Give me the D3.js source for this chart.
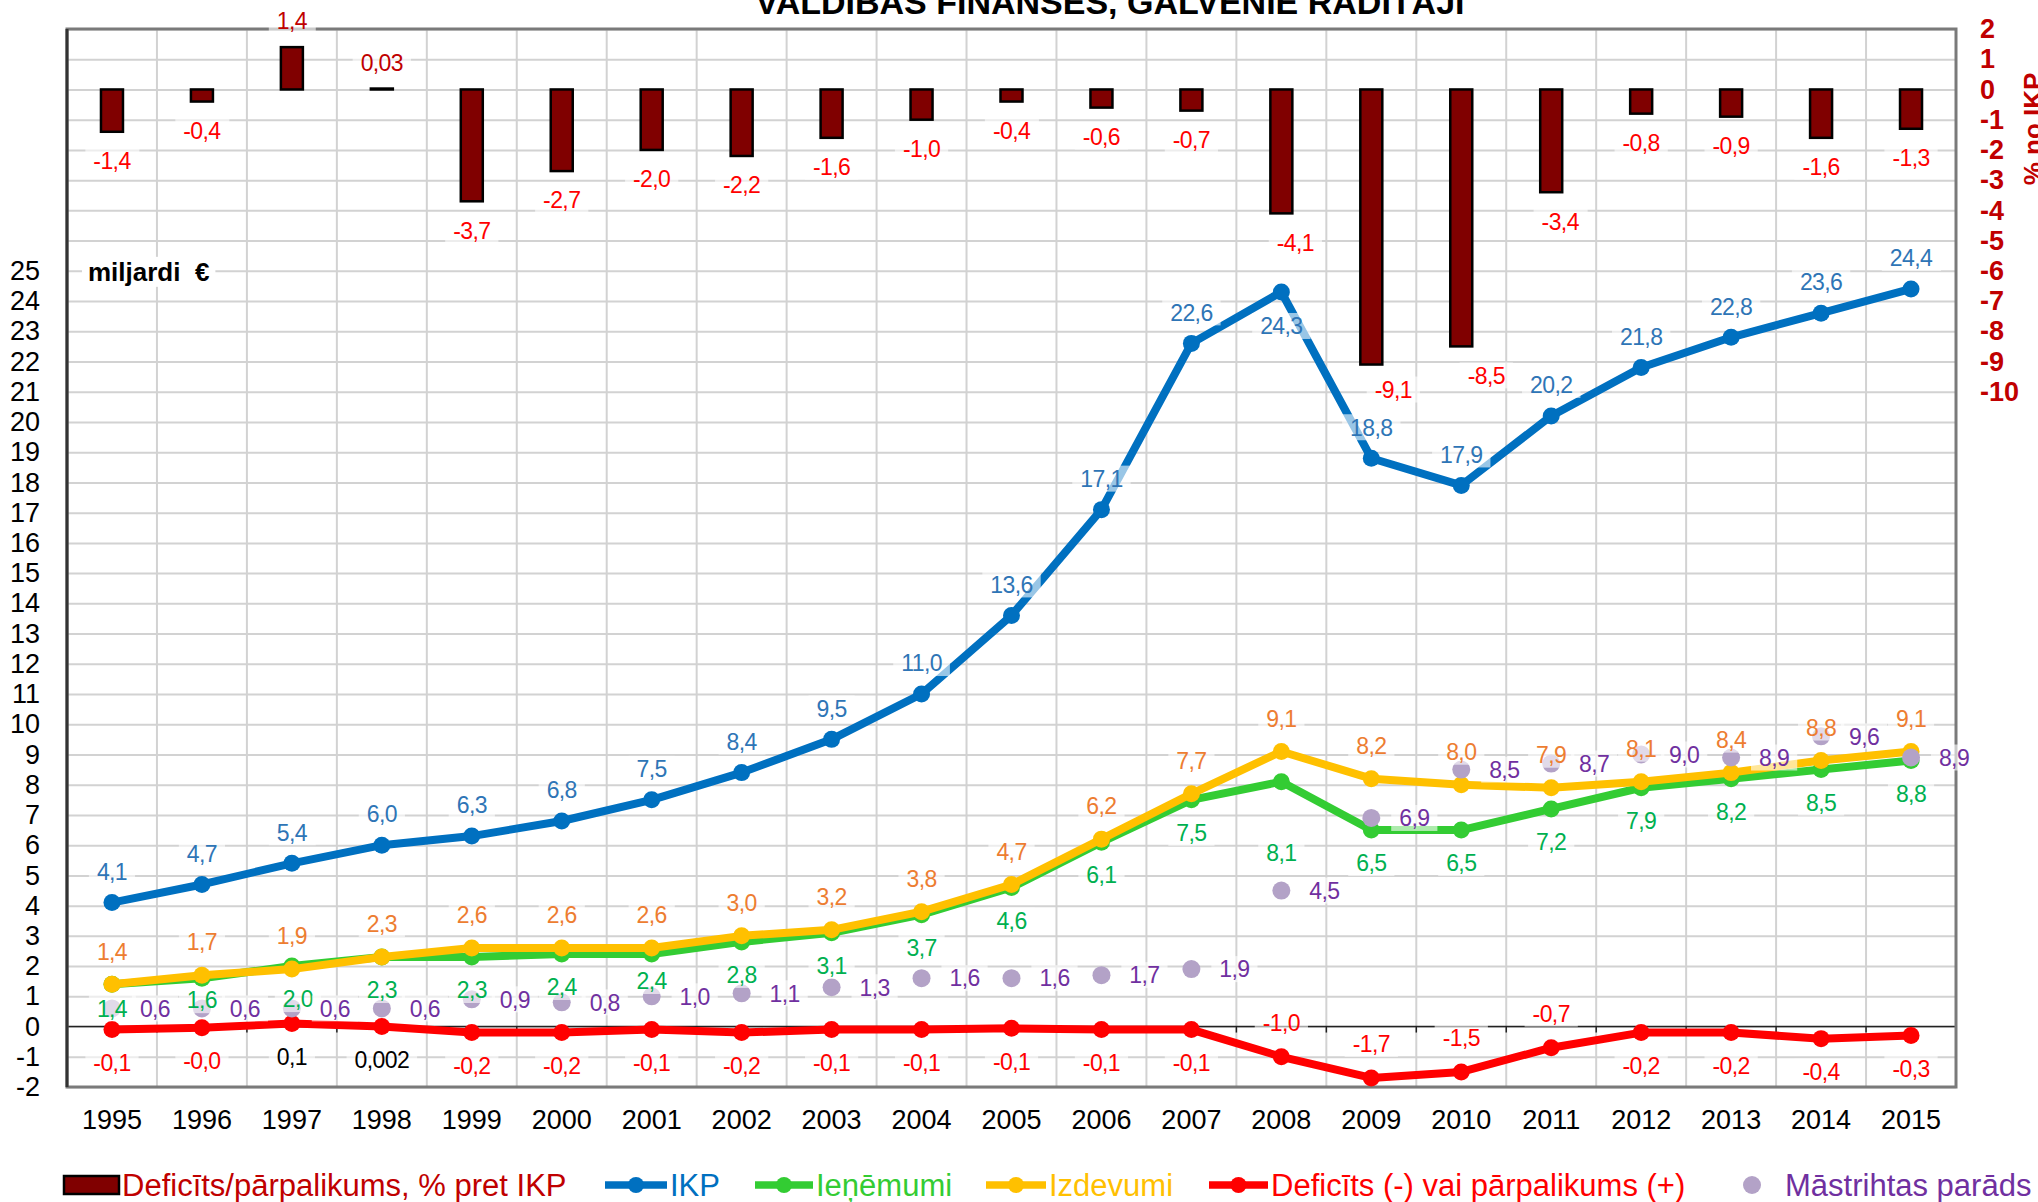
<!DOCTYPE html>
<html>
<head>
<meta charset="utf-8">
<script src="https://cdnjs.cloudflare.com/ajax/libs/d3/7.8.5/d3.min.js"></script>
<style>
    html, body { margin: 0; padding: 0; background: #fff; }
    svg { display: block; font-family: 'Liberation Sans', Arial, sans-serif; }
</style>
</head>
<body>
<div class="chart-container"></div>
<script>
// Data
const years = ['1995', '1996', '1997', '1998', '1999', '2000', '2001', '2002', '2003', '2004',
    '2005', '2006', '2007', '2008', '2009', '2010', '2011', '2012', '2013', '2014', '2015'];
// bars, % of GDP (right axis)
const deficitPct = [-1.4, -0.4, 1.4, 0.03, -3.7, -2.7, -2.0, -2.2, -1.6, -1.0,
    -0.4, -0.6, -0.7, -4.1, -9.1, -8.5, -3.4, -0.8, -0.9, -1.6, -1.3];
// lines, billions EUR (left axis)
const gdp = [4.1, 4.7, 5.4, 6.0, 6.3, 6.8, 7.5, 8.4, 9.5, 11.0,
    13.6, 17.1, 22.6, 24.3, 18.8, 17.9, 20.2, 21.8, 22.8, 23.6, 24.4];
const revenue = [1.4, 1.6, 2.0, 2.3, 2.3, 2.4, 2.4, 2.8, 3.1, 3.7,
    4.6, 6.1, 7.5, 8.1, 6.5, 6.5, 7.2, 7.9, 8.2, 8.5, 8.8];
const spending = [1.4, 1.7, 1.9, 2.3, 2.6, 2.6, 2.6, 3.0, 3.2, 3.8,
    4.7, 6.2, 7.7, 9.1, 8.2, 8.0, 7.9, 8.1, 8.4, 8.8, 9.1];
const balance = [-0.1, -0.04, 0.1, 0.002, -0.2, -0.2, -0.1, -0.2, -0.1, -0.1,
    -0.06, -0.1, -0.1, -1.0, -1.7, -1.5, -0.7, -0.2, -0.2, -0.4, -0.3];
const debt = [0.6, 0.6, 0.6, 0.6, 0.9, 0.8, 1.0, 1.1, 1.3, 1.6,
    1.6, 1.7, 1.9, 4.5, 6.9, 8.5, 8.7, 9.0, 8.9, 9.6, 8.9];

const leftTicks = d3.range(-2, 26);
const rightTicks = d3.range(-10, 3);
const legendNames = ['Deficīts/pārpalikums, % pret IKP', 'IKP', 'Ieņēmumi', 'Izdevumi',
    'Deficīts (-) vai pārpalikums (+)', 'Māstrihtas parāds'];
const titleText = 'VALDĪBAS FINANSES, GALVENIE RĀDĪTĀJI';

// Layout
const svgWidth = 2038;
const svgHeight = 1202;
const plot = { left: 67, right: 1956, top: 29, bottom: 1087 };

// label nudges (layout only)
const barLabelDx = { '2008': 14, '2009': 22, '2010': 25, '2011': 9 };
const gdpBelow = ['2008'];
const revenueDy = { '1995': 24, '1996': 22, '2001': 27, '2008': 71 };
const balanceAbove = ['2008', '2009', '2010', '2011'];

const fmt = v => (v > 0 && v < 0.05 ? String(v) : v.toFixed(1)).replace('.', ',');

function ready() {
    const svg = d3.select('.chart-container')
        .append('svg')
        .attr('width', svgWidth)
        .attr('height', svgHeight);

    // Scales
    const xScale = d3.scaleBand().domain(years).range([plot.left, plot.right]);
    const cx = d => xScale(d) + xScale.bandwidth() / 2;
    const yLeft = d3.scaleLinear().domain([-2, 33]).range([plot.bottom, plot.top]);
    const yRight = d3.scaleLinear().domain([-33, 2]).range([plot.bottom, plot.top]);

    // Grid
    const gridY = d3.axisLeft(yLeft)
        .tickValues(d3.range(-2, 34))
        .tickSize(-(plot.right - plot.left))
        .tickFormat('');
    const gridYDraw = svg.append('g').attr('transform', 'translate(' + plot.left + ',0)');
    gridY(gridYDraw);
    gridYDraw.select('.domain').remove();
    gridYDraw.selectAll('line').attr('stroke', '#d2d2d2').attr('stroke-width', 2);

    svg.append('g')
        .selectAll('line')
        .data(years.slice(1))
        .enter()
        .append('line')
        .attr('x1', d => xScale(d))
        .attr('x2', d => xScale(d))
        .attr('y1', plot.top)
        .attr('y2', plot.bottom)
        .attr('stroke', '#d2d2d2')
        .attr('stroke-width', 2);

    // zero line of the left axis with ticks
    const zeroY = yLeft(0);
    svg.append('line')
        .attr('x1', plot.left).attr('x2', plot.right)
        .attr('y1', zeroY).attr('y2', zeroY)
        .attr('stroke', '#222').attr('stroke-width', 1.5);
    svg.append('g')
        .selectAll('line')
        .data(years.slice(1))
        .enter()
        .append('line')
        .attr('x1', d => xScale(d)).attr('x2', d => xScale(d))
        .attr('y1', zeroY).attr('y2', zeroY + 6)
        .attr('stroke', '#222').attr('stroke-width', 1.5);

    // Border
    svg.append('rect')
        .attr('x', plot.left).attr('y', plot.top)
        .attr('width', plot.right - plot.left)
        .attr('height', plot.bottom - plot.top)
        .attr('fill', 'none')
        .attr('stroke', '#7a7a7a')
        .attr('stroke-width', 3);
    svg.append('line')
        .attr('x1', plot.left).attr('x2', plot.left)
        .attr('y1', plot.top).attr('y2', plot.bottom)
        .attr('stroke', '#333').attr('stroke-width', 3);

    // Bars
    const barW = 22;
    svg.append('g')
        .selectAll('rect')
        .data(years)
        .enter()
        .append('rect')
        .attr('x', d => cx(d) - barW / 2)
        .attr('y', (d, i) => yRight(Math.max(0, deficitPct[i])))
        .attr('width', barW)
        .attr('height', (d, i) => Math.abs(yRight(deficitPct[i]) - yRight(0)))
        .attr('fill', '#800000')
        .attr('stroke', '#000')
        .attr('stroke-width', 2.5);

    // Lines
    const series = [
        { values: gdp, color: '#0070c0' },
        { values: revenue, color: '#33cc33' },
        { values: spending, color: '#ffc000' },
        { values: balance, color: '#ff0000' },
    ];
    series.forEach(s => {
        const line = d3.line()
            .x((d, i) => cx(years[i]))
            .y(d => yLeft(d));
        svg.append('path')
            .datum(s.values)
            .attr('d', line)
            .attr('fill', 'none')
            .attr('stroke', s.color)
            .attr('stroke-width', 8)
            .attr('stroke-linejoin', 'round');
        svg.append('g')
            .selectAll('circle')
            .data(s.values)
            .enter()
            .append('circle')
            .attr('cx', (d, i) => cx(years[i]))
            .attr('cy', d => yLeft(d))
            .attr('r', 8.5)
            .attr('fill', s.color);
    });

    // Maastricht debt points
    svg.append('g')
        .selectAll('circle')
        .data(debt)
        .enter()
        .append('circle')
        .attr('cx', (d, i) => cx(years[i]))
        .attr('cy', d => yLeft(d))
        .attr('r', 9)
        .attr('fill', '#b3a2c7');

    // Data labels
    const labels = svg.append('g');
    function addLabel(x, y, text, color) {
        const g = labels.append('g');
        const box = g.append('rect');
        const t = g.append('text')
            .attr('x', x)
            .attr('y', y)
            .attr('dy', '0.36em')
            .attr('text-anchor', 'middle')
            .attr('font-size', 23)
            .attr('letter-spacing', -0.6)
            .attr('fill', color)
            .text(text);
        const bb = t.node().getBBox();
        box.attr('x', bb.x - 8).attr('y', y - 13)
            .attr('width', bb.width + 16).attr('height', 26)
            .attr('fill', '#fff').attr('fill-opacity', 0.6);
    }

    years.forEach((yr, i) => {
        const v = deficitPct[i];
        const dy = v > 0 ? -26 : (yr === '2009' ? 25 : 29);
        addLabel(cx(yr) + (barLabelDx[yr] || 0), yRight(v) + dy, fmt(v), v > 0 ? '#c00000' : '#ff0000');
    });
    years.forEach((yr, i) => {
        const dy = gdpBelow.includes(yr) ? 34 : -31;
        addLabel(cx(yr), yLeft(gdp[i]) + dy, fmt(gdp[i]), '#2e75b6');
    });
    years.forEach((yr, i) => {
        addLabel(cx(yr), yLeft(spending[i]) - 33, fmt(spending[i]), '#ed7d31');
    });
    years.forEach((yr, i) => {
        const dy = revenueDy[yr] || 33;
        addLabel(cx(yr) + (yr === '1997' ? 6 : 0), yLeft(revenue[i]) + dy, fmt(revenue[i]), '#00b050');
    });
    years.forEach((yr, i) => {
        const v = balance[i];
        const dy = balanceAbove.includes(yr) ? -34 : 33;
        addLabel(cx(yr), yLeft(v) + dy, fmt(v), v > 0 ? '#000' : '#ff0000');
    });
    years.forEach((yr, i) => {
        addLabel(cx(yr) + 43, yLeft(debt[i]), fmt(debt[i]), '#7030a0');
    });

    // Unit label
    const unit = svg.append('g');
    const unitBox = unit.append('rect');
    const unitText = unit.append('text')
        .attr('x', 88)
        .attr('y', yLeft(25) + 10)
        .attr('font-size', 26)
        .attr('font-weight', 'bold')
        .attr('fill', '#000')
        .attr('xml:space', 'preserve')
        .text('miljardi  €');
    const ub = unitText.node().getBBox();
    unitBox.attr('x', ub.x - 6).attr('y', ub.y).attr('width', ub.width + 12).attr('height', ub.height)
        .attr('fill', '#fff');

    // Axes
    const yAxisLeft = d3.axisLeft(yLeft)
        .tickValues(leftTicks)
        .tickSize(0)
        .tickPadding(0)
        .tickFormat(d => String(d));
    const yAxisLeftDraw = svg.append('g').attr('transform', 'translate(40,0)');
    yAxisLeft(yAxisLeftDraw);
    yAxisLeftDraw.select('.domain').remove();
    yAxisLeftDraw.selectAll('text')
        .attr('font-size', 27)
        .attr('font-family', "'Liberation Sans', Arial, sans-serif")
        .attr('fill', '#000');

    const yAxisRight = d3.axisRight(yRight)
        .tickValues(rightTicks)
        .tickSize(0)
        .tickPadding(0)
        .tickFormat(d => String(d));
    const yAxisRightDraw = svg.append('g').attr('transform', 'translate(1980,0)');
    yAxisRight(yAxisRightDraw);
    yAxisRightDraw.select('.domain').remove();
    yAxisRightDraw.selectAll('text')
        .attr('font-size', 27)
        .attr('font-weight', 'bold')
        .attr('font-family', "'Liberation Sans', Arial, sans-serif")
        .attr('fill', '#c00000');

    const xAxis = d3.axisBottom(xScale).tickSize(0).tickPadding(0);
    const xAxisDraw = svg.append('g').attr('transform', 'translate(0,1129)');
    xAxis(xAxisDraw);
    xAxisDraw.select('.domain').remove();
    xAxisDraw.selectAll('text')
        .attr('y', 0)
        .attr('dy', 0)
        .attr('font-size', 27)
        .attr('font-family', "'Liberation Sans', Arial, sans-serif")
        .attr('fill', '#000');

    // right axis title, partly outside the frame as in the original
    svg.append('text')
        .attr('transform', 'translate(2042,129) rotate(-90)')
        .attr('text-anchor', 'middle')
        .attr('font-size', 26)
        .attr('font-weight', 'bold')
        .attr('fill', '#c00000')
        .text('% no IKP');

    // Title (cut off by the top edge, as in the original)
    svg.append('text')
        .attr('x', 1110)
        .attr('y', 14)
        .attr('text-anchor', 'middle')
        .attr('font-size', 34)
        .attr('font-weight', 'bold')
        .attr('fill', '#000')
        .text(titleText);

    // Legend
    const legendY = 1185;
    const legendX = [[64, 119], [605, 667], [755, 813], [986, 1046], [1209, 1268], [1752, 1752]];
    const legendColors = ['#800000', '#0070c0', '#33cc33', '#ffc000', '#ff0000', '#b3a2c7'];
    const legendText = ['#c00000', '#0070c0', '#33cc33', '#ffc000', '#ff0000', '#7030a0'];
    const legend = svg.append('g');
    legendNames.forEach((name, i) => {
        const [x0, x1] = legendX[i];
        if (i === 0) {
            legend.append('rect')
                .attr('x', x0).attr('y', legendY - 9)
                .attr('width', x1 - x0).attr('height', 18)
                .attr('fill', legendColors[i]).attr('stroke', '#000').attr('stroke-width', 2.5);
        } else if (i === 5) {
            legend.append('circle')
                .attr('cx', x0).attr('cy', legendY).attr('r', 9)
                .attr('fill', legendColors[i]);
        } else {
            legend.append('line')
                .attr('x1', x0).attr('x2', x1)
                .attr('y1', legendY).attr('y2', legendY)
                .attr('stroke', legendColors[i]).attr('stroke-width', 7.5);
            legend.append('circle')
                .attr('cx', (x0 + x1) / 2).attr('cy', legendY).attr('r', 8)
                .attr('fill', legendColors[i]);
        }
        legend.append('text')
            .attr('x', i === 5 ? 1785 : x1 + 3)
            .attr('y', legendY)
            .attr('dy', '0.36em')
            .attr('font-size', 31)
            .attr('fill', legendText[i])
            .text(name);
    });
}

ready();
</script>
</body>
</html>
